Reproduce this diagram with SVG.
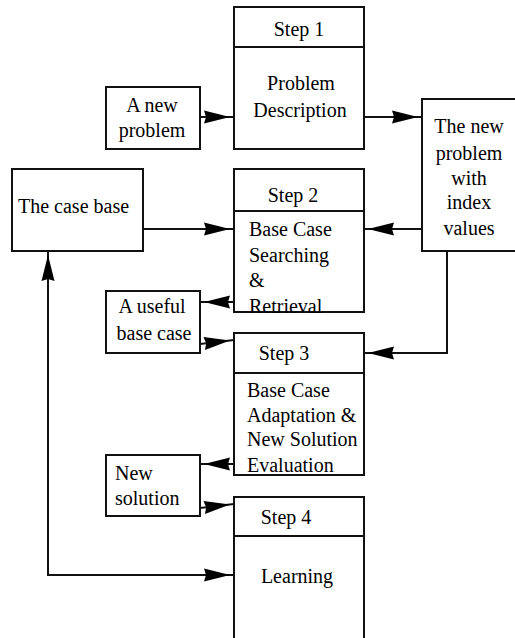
<svg xmlns="http://www.w3.org/2000/svg" width="515" height="638" viewBox="0 0 515 638" font-family="'Liberation Serif', 'Times New Roman', serif">
<defs>
<style>
.box{fill:#fff;stroke:#111;stroke-width:2}
.div{stroke:#111;stroke-width:2}
.con{fill:none;stroke:#111;stroke-width:2}
text{font-family:'Liberation Serif','Times New Roman',serif;font-size:20px;fill:#000}
.c{text-anchor:middle}
</style>
<marker id="ah" markerUnits="userSpaceOnUse" markerWidth="40" markerHeight="20" viewBox="-40 -10 40 20" refX="0" refY="0" orient="auto-start-reverse" overflow="visible">
<path d="M-4,0 L-30,-6.5 L-28,0 L-30,6.5 Z" fill="#000"/>
</marker>
</defs>
<rect width="515" height="638" fill="#fff"/>

<g id="connectors">
<path class="con" d="M200,117 H234" marker-end="url(#ah)"/>
<path class="con" d="M364,117 H422" marker-end="url(#ah)"/>
<path class="con" d="M143,229 H234" marker-end="url(#ah)"/>
<path class="con" d="M422,229 H364" marker-end="url(#ah)"/>
<path class="con" d="M234,302 H200" marker-end="url(#ah)"/>
<path class="con" d="M200,344 L234,340" marker-end="url(#ah)"/>
<path class="con" d="M447,251 V353 H364" marker-end="url(#ah)"/>
<path class="con" d="M234,464 H200" marker-end="url(#ah)"/>
<path class="con" d="M200,508 L234,504" marker-end="url(#ah)"/>
<path class="con" d="M48,251 V575 H234" marker-start="url(#ah)" marker-end="url(#ah)"/>
</g>

<g id="step1">
<rect class="box" x="234" y="7" width="130" height="142"/>
<line class="div" x1="234" y1="47" x2="364" y2="47"/>
<text class="c" x="299" y="36">Step 1</text>
<text class="c" x="301" y="90">Problem</text>
<text class="c" x="300" y="117">Description</text>
</g>

<g id="new-problem">
<rect class="box" x="106" y="87" width="94" height="62"/>
<text class="c" x="152" y="112">A new</text>
<text class="c" x="152" y="137">problem</text>
</g>

<g id="indexed-problem">
<rect class="box" x="422" y="99" width="100" height="152"/>
<text class="c" x="469" y="133">The new</text>
<text class="c" x="469" y="160">problem</text>
<text class="c" x="469" y="185">with</text>
<text class="c" x="469" y="209">index</text>
<text class="c" x="469" y="235">values</text>
</g>

<g id="case-base">
<rect class="box" x="12" y="169" width="131" height="82"/>
<text x="18" y="213">The case base</text>
</g>

<g id="step2">
<rect class="box" x="234" y="169" width="130" height="143"/>
<line class="div" x1="234" y1="211" x2="364" y2="211"/>
<text class="c" x="293" y="202">Step 2</text>
<text x="249" y="236">Base Case</text>
<text x="249" y="262">Searching</text>
<text x="249" y="287">&amp;</text>
<text x="249" y="313">Retrieval</text>
</g>

<g id="useful-case">
<rect class="box" x="106" y="291" width="94" height="62"/>
<text class="c" x="152" y="313">A useful</text>
<text class="c" x="154" y="340">base case</text>
</g>

<g id="step3">
<rect class="box" x="234" y="333" width="130" height="142"/>
<line class="div" x1="234" y1="373" x2="364" y2="373"/>
<text class="c" x="284" y="360">Step 3</text>
<text x="247" y="397">Base Case</text>
<text x="247" y="422">Adaptation &amp;</text>
<text x="247" y="446">New Solution</text>
<text x="247" y="472">Evaluation</text>
</g>

<g id="new-solution">
<rect class="box" x="106" y="455" width="94" height="61"/>
<text x="115" y="480">New</text>
<text x="115" y="505">solution</text>
</g>

<g id="step4">
<rect class="box" x="234" y="497" width="130" height="150"/>
<line class="div" x1="234" y1="536" x2="364" y2="536"/>
<text class="c" x="286" y="524">Step 4</text>
<text class="c" x="297" y="583">Learning</text>
</g>
</svg>
